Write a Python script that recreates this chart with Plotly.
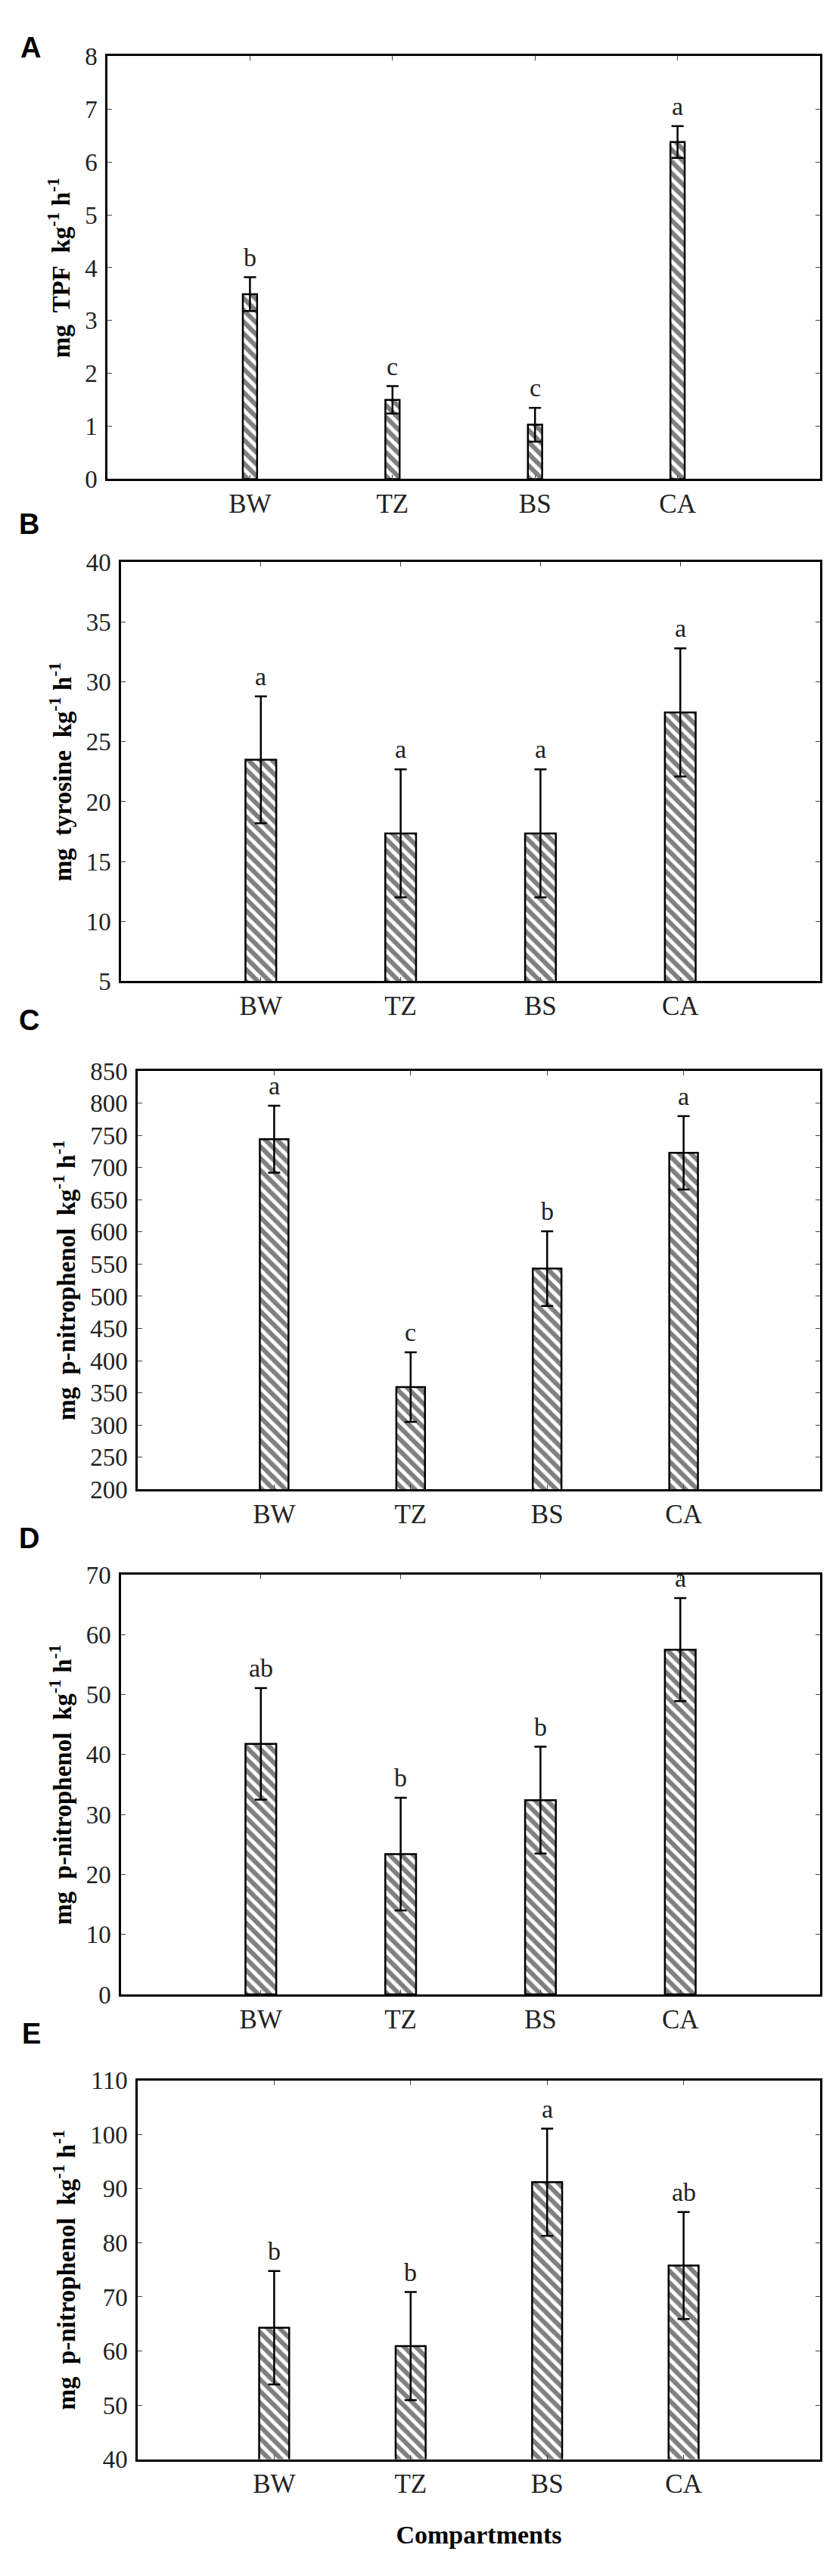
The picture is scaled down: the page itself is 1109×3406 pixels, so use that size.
import plotly.graph_objects as go
from plotly.subplots import make_subplots

compartments = ["BW", "TZ", "BS", "CA"]

# A: dehydrogenase (mg TPF)
tpf_mean = [3.50, 1.50, 1.03, 6.38]
tpf_err = [0.32, 0.26, 0.32, 0.30]
tpf_letters = ["b", "c", "c", "a"]

# B: protease (mg tyrosine)
tyr_mean = [23.5, 17.35, 17.35, 27.45]
tyr_err = [5.3, 5.35, 5.35, 5.35]
tyr_letters = ["a", "a", "a", "a"]

# C: p-nitrophenol
pnp_c_mean = [744, 359, 543, 723]
pnp_c_err = [52, 54, 58, 57]
pnp_c_letters = ["a", "c", "b", "a"]

# D: p-nitrophenol
pnp_d_mean = [41.8, 23.4, 32.4, 57.5]
pnp_d_err = [9.3, 9.4, 8.9, 8.6]
pnp_d_letters = ["ab", "b", "b", "a"]

# E: p-nitrophenol
pnp_e_mean = [64.3, 60.9, 91.2, 75.8]
pnp_e_err = [10.5, 10.0, 9.9, 9.9]
pnp_e_letters = ["b", "b", "a", "ab"]

y_titles = [
    "mg\u00a0 TPF\u00a0 kg<sup>-1</sup> h<sup>-1</sup>",
    "mg\u00a0 tyrosine\u00a0 kg<sup>-1</sup> h<sup>-1</sup>",
    "mg\u00a0 p-nitrophenol\u00a0 kg<sup>-1</sup> h<sup>-1</sup>",
    "mg\u00a0 p-nitrophenol\u00a0 kg<sup>-1</sup> h<sup>-1</sup>",
    "mg\u00a0 p-nitrophenol\u00a0 kg<sup>-1</sup> h<sup>-1</sup>",
]
panel_tags = ["A", "B", "C", "D", "E"]

W, H = 1109, 3406
SERIF = "Liberation Serif, Times New Roman, serif"

panels = [
    dict(mean=tpf_mean, err=tpf_err, letters=tpf_letters, yr=[0, 8], dt=1,
         bw=0.1, px=(134, 1076), py=(50, 615), tag=(32, 38)),
    dict(mean=tyr_mean, err=tyr_err, letters=tyr_letters, yr=[5, 40], dt=5,
         bw=0.22, px=(152, 1076), py=(726, 1286), tag=(30, 675)),
    dict(mean=pnp_c_mean, err=pnp_c_err, letters=pnp_c_letters, yr=[200, 850], dt=50,
         bw=0.21, px=(174, 1076), py=(1406, 1965), tag=(30, 1338)),
    dict(mean=pnp_d_mean, err=pnp_d_err, letters=pnp_d_letters, yr=[0, 70], dt=10,
         bw=0.22, px=(152, 1076), py=(2079, 2640), tag=(30, 2030)),
    dict(mean=pnp_e_mean, err=pnp_e_err, letters=pnp_e_letters, yr=[40, 110], dt=10,
         bw=0.22, px=(174, 1076), py=(2755, 3261), tag=(33, 2692)),
]

fig = make_subplots(rows=5, cols=1)

for i, p in enumerate(panels):
    r = i + 1
    fig.add_trace(go.Bar(
        x=compartments, y=p["mean"], width=p["bw"],
        marker=dict(color="white", line=dict(color="black", width=2.5),
                    pattern=dict(shape="\\", fgcolor="black", bgcolor="white",
                                 size=11, solidity=0.55)),
        error_y=dict(type="data", array=p["err"], visible=True,
                     color="black", thickness=2.5, width=8),
        showlegend=False,
    ), row=r, col=1)

    # significance letters above the error bars
    for c, m, e, t in zip(compartments, p["mean"], p["err"], p["letters"]):
        fig.add_annotation(x=c, y=m + e, text=t, showarrow=False,
                           yanchor="bottom", yshift=6,
                           font=dict(family=SERIF, size=34, color="#222"),
                           row=r, col=1)

    xa = "xaxis" if i == 0 else f"xaxis{r}"
    ya = "yaxis" if i == 0 else f"yaxis{r}"
    fig.update_layout({
        xa: dict(domain=[p["px"][0] / W, p["px"][1] / W]),
        ya: dict(domain=[1 - p["py"][1] / H, 1 - p["py"][0] / H]),
    })
    fig.update_xaxes(range=[-1, 4], showline=True, linecolor="black", linewidth=2.5,
                     mirror="ticks", ticks="inside", ticklen=6, tickcolor="#444",
                     showgrid=False, zeroline=False, ticklabelstandoff=0,
                     tickfont=dict(family=SERIF, size=35, color="#222"),
                     row=r, col=1)
    fig.update_yaxes(range=p["yr"], dtick=p["dt"], showline=True, linecolor="black",
                     linewidth=2.5, mirror="ticks", ticks="inside", ticklen=6,
                     tickcolor="#444", showgrid=False, zeroline=False,
                     ticklabelstandoff=4,
                     tickfont=dict(family=SERIF, size=33, color="#222"),
                     title=dict(text=y_titles[i], standoff=10,
                                font=dict(family=SERIF, size=33, color="black",
                                          weight="bold")),
                     row=r, col=1)

    fig.add_annotation(x=p["tag"][0] / W, y=1 - p["tag"][1] / H, xref="paper", yref="paper",
                       text=panel_tags[i], showarrow=False, xanchor="center", yanchor="middle",
                       font=dict(family="Liberation Sans, Arial, sans-serif", size=38,
                                 color="black", weight="bold"))

fig.update_xaxes(title=dict(text="Compartments", standoff=36,
                            font=dict(family=SERIF, size=34, color="black", weight="bold")),
                 row=5, col=1)

fig.update_layout(width=W, height=H, autosize=False,
                  margin=dict(l=0, r=0, t=0, b=0),
                  paper_bgcolor="white", plot_bgcolor="white",
                  bargap=0.5)

fig.write_html("out.html")
